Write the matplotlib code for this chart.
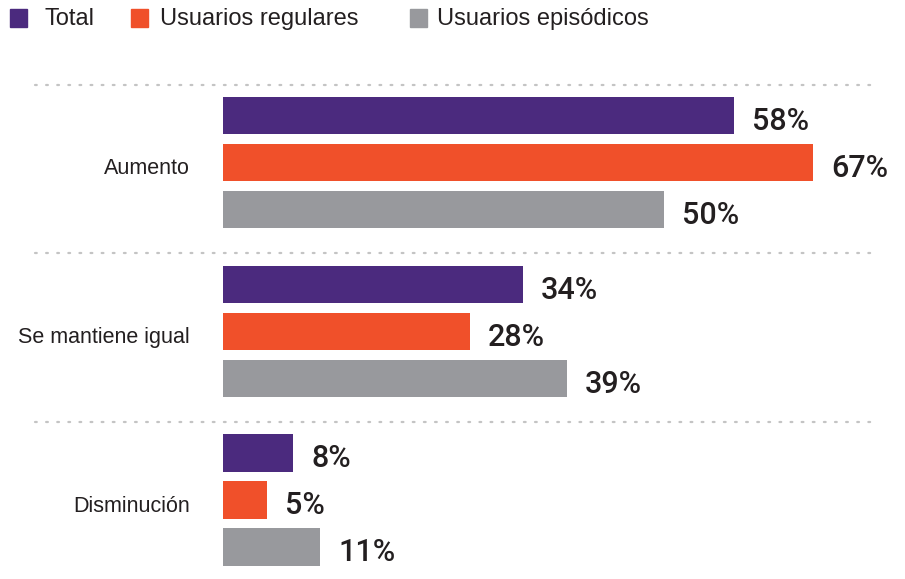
import numpy as np
import matplotlib.pyplot as plt
from matplotlib.patches import Rectangle

categories = ['Aumento', 'Se mantiene igual', 'Disminución']
series = ['Total', 'Usuarios regulares', 'Usuarios episódicos']
total = [58, 34, 8]
regulares = [67, 28, 5]
episodicos = [50, 39, 11]
colors = ['#4b2a7e', '#f0502a', '#98999d']

W, H = 905, 579
fig = plt.figure(figsize=(W / 100, H / 100), dpi=100)

# axes: x=0 at pixel 223, 8.81 px per percent; y in bar-pitch units (47 px)
ax = fig.add_axes([223 / W, 0, 1 - 223 / W, 1 - 70 / H])
ax.set_xlim(0, (W - 223) / 8.81)
ax.set_ylim(8.86, -1.97)
ax.axis('off')

group_step = 3.59
vals = [total, regulares, episodicos]
for i, (name, v, c) in enumerate(zip(series, vals, colors)):
    y = np.arange(len(categories)) * group_step + (i - 1)
    ax.barh(y, v, height=0.79, color=c, label=name)
    for yy, vv in zip(y, v):
        ax.annotate(f'{vv}%', (vv, yy), xytext=(13, -10.4), textcoords='offset points',
                    va='baseline', ha='left', fontsize=22, fontweight='medium',
                    family='Roboto', color='#231f20')

# category labels and dotted separators
for g, cat in enumerate(categories):
    yc = g * group_step
    ax.annotate(cat, (0, yc), xytext=(-24, -8.3), textcoords='offset points',
                ha='right', va='baseline', fontsize=15.5, family='Liberation Sans',
                color='#231f20')
    ax.plot([-188 / 8.81, 655 / 8.81], [yc - 1.66, yc - 1.66], color='#c4c4c4',
            lw=1.6, ls=(0, (0.8, 4.2)), clip_on=False, solid_capstyle='round',
            dash_capstyle='round')

# legend drawn manually at the top
leg = [(10, 44), (131, 160), (410, 437)]
for (sx, tx), name, c in zip(leg, series, colors):
    fig.patches.append(Rectangle((sx / W, 1 - 27 / H), 17 / W, 18 / H,
                                 transform=fig.transFigure, color=c))
    fig.text(tx / W, 1 - 19 / H, name, fontsize=17, family='Liberation Sans',
             va='center', ha='left', color='#231f20')

fig.savefig('out.png', dpi=100)
